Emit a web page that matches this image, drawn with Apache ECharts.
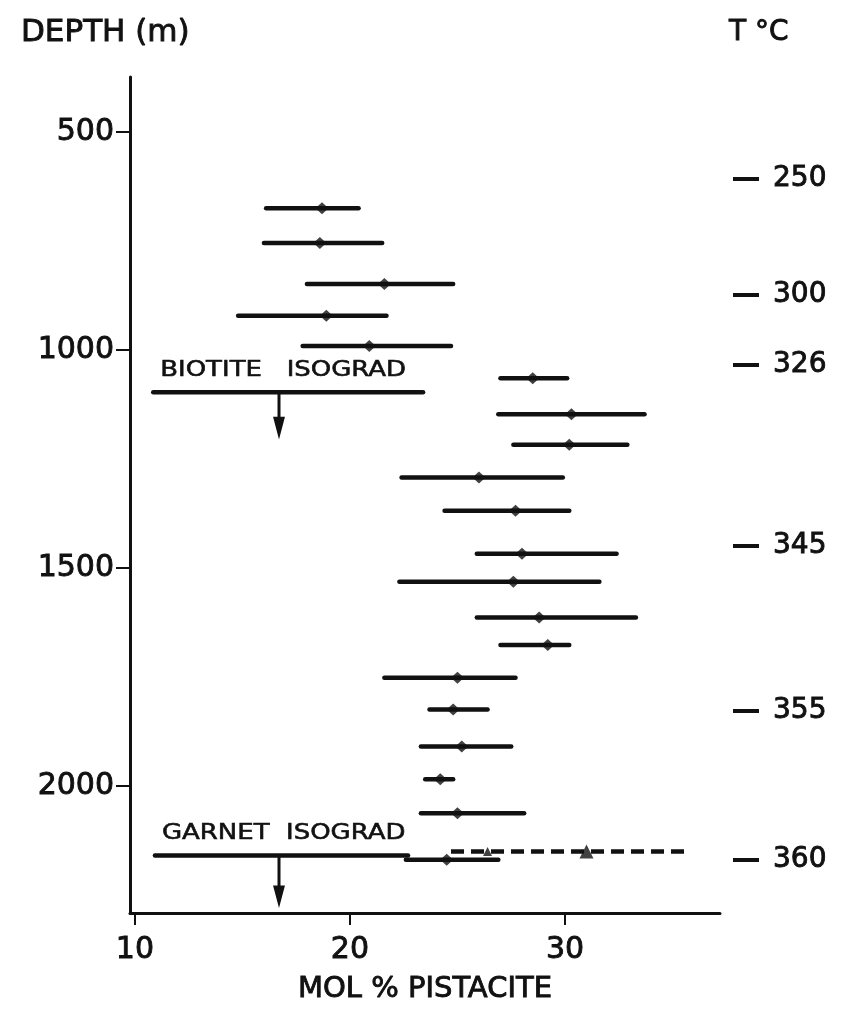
<!DOCTYPE html>
<html>
<head>
<meta charset="utf-8">
<script src="https://cdn.jsdelivr.net/npm/echarts@6/dist/echarts.min.js"></script>
<style>
  html, body { margin: 0; padding: 0; background: #fff; }
  #chart { width: 848px; height: 1011px; }
</style>
</head>
<body>
<div id="chart"></div>
<script>
// Epidote composition with depth: mean and range of mol % pistacite per sample
const depths         = [675, 755, 849, 922, 991, 1065, 1148, 1218, 1293, 1369, 1468, 1532, 1614, 1677, 1752, 1825, 1910, 1985, 2063, 2170];
const pistaciteMean  = [18.7, 18.6, 21.6, 18.9, 20.9, 28.5, 30.3, 30.2, 26.0, 27.7, 28.0, 27.6, 28.8, 29.2, 25.0, 24.8, 25.2, 24.2, 25.0, 24.5];
const pistaciteLow   = [16.1, 16.0, 18.0, 14.8, 17.8, 27.0, 26.9, 27.6, 22.4, 24.4, 25.9, 22.3, 25.9, 27.0, 21.6, 23.7, 23.3, 23.5, 23.3, 22.6];
const pistaciteHigh  = [20.4, 21.5, 24.8, 21.7, 24.7, 30.1, 33.7, 32.9, 29.9, 30.2, 32.4, 31.6, 33.3, 30.2, 27.7, 26.4, 27.5, 24.8, 28.1, 26.9];

// Garnet-zone epidote: dashed range with two triangle values
const garnetDepth  = 2151;
const garnetRange  = [24.7, 35.6];
const garnetValues = [26.4, 31.0];

// Isograds: horizontal marker with a downward arrow
const isogradNames    = ['BIOTITE   ISOGRAD', 'GARNET  ISOGRAD'];
const isogradDepths   = [1097, 2160];
const isogradFrom     = [10.85, 10.93];
const isogradTo       = [23.4, 22.7];
const isogradArrowX   = [16.7, 16.7];
const isogradArrowEnd = [1199, 2274];

// Temperature scale on the right
const tempLabels = [250, 300, 326, 345, 355, 360];
const tempDepths = [608, 874, 1035, 1450, 1829, 2170];

// Axis tick values
const depthTicks     = [500, 1000, 1500, 2000];
const pistaciteTicks = [10, 20, 30];

const FONT = 'DejaVu Sans';
const INK = '#111';

const chart = echarts.init(document.getElementById('chart'), null, { renderer: 'canvas' });

const rangeData = depths.map((d, i) => [pistaciteLow[i], pistaciteHigh[i], d]);
const meanData = depths.map((d, i) => [pistaciteMean[i], d]);
const isogradData = isogradDepths.map((d, i) => [isogradFrom[i], isogradTo[i], d, isogradArrowX[i], isogradArrowEnd[i]]);

// Heavier lettering: fill plus a thin outline in the same ink
const inkText = { color: INK, textBorderColor: INK, textBorderWidth: 0.9 };

function rangeBar(dash) {
  return function (params, api) {
    const a = api.coord([api.value(0), api.value(2)]);
    const b = api.coord([api.value(1), api.value(2)]);
    return {
      type: 'line',
      shape: { x1: a[0], y1: a[1], x2: b[0], y2: b[1] },
      style: { stroke: INK, lineWidth: 4.5, lineCap: dash ? 'butt' : 'round', lineDash: dash || null }
    };
  };
}

const option = {
  backgroundColor: '#fff',
  animation: false,
  title: [
    { text: 'DEPTH (m)', left: 16, top: 12, textStyle: Object.assign({ fontFamily: FONT, fontSize: 31, fontWeight: 'normal' }, inkText) },
    { text: 'T °C', left: 724, top: 14, textStyle: Object.assign({ fontFamily: FONT, fontSize: 28, fontWeight: 'normal' }, inkText) }
  ],
  grid: { left: 130, top: 77, width: 590, height: 836, containLabel: false, outerBoundsMode: 'none' },
  xAxis: {
    type: 'value',
    min: 9.77,
    max: 37.21,
    name: 'MOL % PISTACITE',
    nameLocation: 'middle',
    nameGap: 62,
    nameMoveOverlap: false,
    nameTextStyle: Object.assign({ fontFamily: FONT, fontSize: 29 }, inkText),
    axisLine: { show: true, onZero: false, lineStyle: { color: INK, width: 3 } },
    axisTick: { show: true, customValues: pistaciteTicks, length: 12, lineStyle: { color: INK, width: 2 } },
    axisLabel: Object.assign({ customValues: pistaciteTicks, fontFamily: FONT, fontSize: 30, margin: 22 }, inkText),
    splitLine: { show: false }
  },
  yAxis: [
    {
      type: 'value',
      inverse: true,
      min: 374,
      max: 2292,
      position: 'left',
      axisLine: { show: true, onZero: false, lineStyle: { color: INK, width: 3 } },
      axisTick: { show: true, customValues: depthTicks, length: 14, lineStyle: { color: INK, width: 2 } },
      axisLabel: Object.assign({ customValues: depthTicks, fontFamily: FONT, fontSize: 30, margin: 16,
                                 formatter: v => String(v) }, inkText),
      splitLine: { show: false }
    },
    {
      type: 'value',
      inverse: true,
      min: 374,
      max: 2292,
      position: 'right',
      offset: 13,
      axisLine: { show: false },
      axisTick: { show: true, customValues: tempDepths, length: 26, lineStyle: { color: INK, width: 4 } },
      axisLabel: Object.assign({
        customValues: tempDepths,
        fontFamily: FONT, fontSize: 28, margin: 40,
        formatter: v => String(tempLabels[tempDepths.indexOf(v)])
      }, inkText),
      splitLine: { show: false }
    }
  ],
  series: [
    {
      name: 'range',
      type: 'custom',
      renderItem: rangeBar(null),
      encode: { x: [0, 1], y: 2 },
      data: rangeData,
      z: 2
    },
    {
      name: 'mean',
      type: 'scatter',
      symbol: 'diamond',
      symbolSize: [13, 12],
      itemStyle: { color: INK },
      data: meanData,
      z: 3
    },
    {
      name: 'garnet zone range',
      type: 'custom',
      renderItem: rangeBar([13, 7]),
      encode: { x: [0, 1], y: 2 },
      data: [[garnetRange[0], garnetRange[1], garnetDepth]],
      z: 2
    },
    {
      name: 'garnet zone values',
      type: 'scatter',
      symbol: 'triangle',
      symbolSize: (v, p) => (p.dataIndex === 0 ? 9 : 14),
      itemStyle: { color: INK },
      data: garnetValues.map(v => [v, garnetDepth]),
      z: 3
    },
    {
      name: 'isograds',
      type: 'custom',
      encode: { x: [0, 1, 3], y: [2, 4] },
      data: isogradData,
      renderItem: function (params, api) {
        const a = api.coord([api.value(0), api.value(2)]);
        const b = api.coord([api.value(1), api.value(2)]);
        const s = api.coord([api.value(3), api.value(2)]);
        const e = api.coord([api.value(3), api.value(4)]);
        const headTop = e[1] - 19;
        return {
          type: 'group',
          children: [
            { type: 'line', shape: { x1: a[0], y1: a[1], x2: b[0], y2: b[1] },
              style: { stroke: INK, lineWidth: 4.5, lineCap: 'round' } },
            { type: 'line', shape: { x1: s[0], y1: s[1], x2: s[0], y2: headTop },
              style: { stroke: INK, lineWidth: 3 } },
            { type: 'polygon', shape: { points: [[s[0] - 5, headTop], [s[0] + 5, headTop], [s[0], e[1]]] },
              style: { fill: INK, stroke: INK, lineWidth: 1.5 } },
            { type: 'text', x: a[0] + 7, y: a[1] - 11, scaleX: 1.18,
              style: { text: isogradNames[params.dataIndex], fontFamily: FONT, fontSize: 22,
                       fill: INK, stroke: INK, lineWidth: 0.6, align: 'left', verticalAlign: 'bottom' } }
          ]
        };
      },
      z: 2
    }
  ]
};

chart.setOption(option);
</script>
</body>
</html>
